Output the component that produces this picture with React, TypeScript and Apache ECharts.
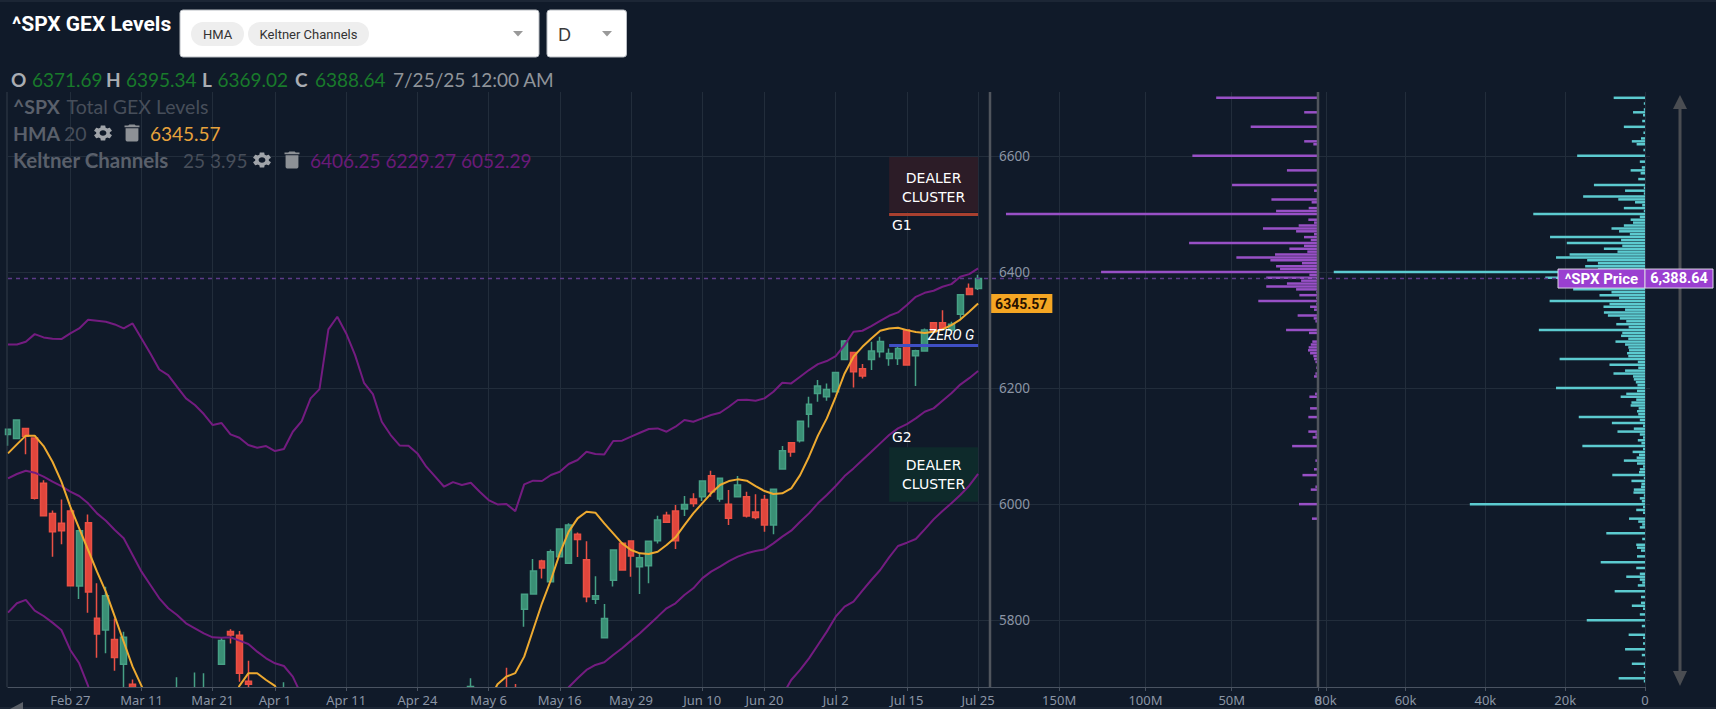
import React, { useEffect, useRef } from "react";
import * as echarts from "echarts";

const dates = ["Feb 18","Feb 19","Feb 20","Feb 21","Feb 24","Feb 25","Feb 26","Feb 27","Feb 28","Mar 3","Mar 4","Mar 5","Mar 6","Mar 7","Mar 10","Mar 11","Mar 12","Mar 13","Mar 14","Mar 17","Mar 18","Mar 19","Mar 20","Mar 21","Mar 24","Mar 25","Mar 26","Mar 27","Mar 28","Mar 31","Apr 1","Apr 2","Apr 3","Apr 4","Apr 7","Apr 8","Apr 9","Apr 10","Apr 11","Apr 14","Apr 15","Apr 16","Apr 17","Apr 21","Apr 22","Apr 23","Apr 24","Apr 25","Apr 28","Apr 29","Apr 30","May 1","May 2","May 5","May 6","May 7","May 8","May 9","May 12","May 13","May 14","May 15","May 16","May 19","May 20","May 21","May 22","May 23","May 27","May 28","May 29","May 30","Jun 2","Jun 3","Jun 4","Jun 5","Jun 6","Jun 9","Jun 10","Jun 11","Jun 12","Jun 13","Jun 16","Jun 17","Jun 18","Jun 20","Jun 23","Jun 24","Jun 25","Jun 26","Jun 27","Jun 30","Jul 1","Jul 2","Jul 3","Jul 7","Jul 8","Jul 9","Jul 10","Jul 11","Jul 14","Jul 15","Jul 16","Jul 17","Jul 18","Jul 21","Jul 22","Jul 23","Jul 24","Jul 25",""];
const dateTicks = ["Feb 27","Mar 11","Mar 21","Apr 1","Apr 11","Apr 24","May 6","May 16","May 29","Jun 10","Jun 20","Jul 2","Jul 15","Jul 25"];
const priceTicks = [5800, 6000, 6200, 6400, 6600];

const _ = ["-", "-", "-", "-"];
// open, close, low, high
const candles: any[] = [
[6120,6129,6100.7,6130],[6113,6145,6112,6146],[6130.5,6117,6086,6131],[6114,6010,6008,6115],[6035.8,5980,5979,6041],[5984,5952.6,5909.5,5989],[5967,5954.3,5931,6008],[5988,5859.6,5859,5993],[5859,5954.3,5836.6,5955],[5968,5848.7,5813,5982],
[5803.3,5776.4,5735.6,5863.6],[5783,5842.4,5743,5857.9],[5767,5736,5713,5803],[5724,5770.6,5666,5780],[5689.7,5614,5564,5698],_,_,_,_,[5635,5675,5631,5702],
_,[5632,5675,5622,5710],[5646,5662,5633,5708.6],_,[5724,5765,5723,5770.6],[5780.4,5774.6,5760,5784.4],[5774,5708.6,5694,5781.5],[5695,5689.7,5670,5730.4],_,_,
_,[5580,5671,5571,5693],_,_,_,_,_,_,_,_,
_,_,_,_,_,_,_,_,_,_,
_,_,[5645,5686,5629,5700],_,_,_,[5680,5663,5646,5718],[5680,5660,5650,5690],[5819,5844.7,5789,5846],[5845,5884.8,5844,5905.5],
[5902,5890,5872,5904],[5866.5,5918,5866,5922],[5909.5,5957,5908,5958],[5898,5964,5898,5967],[5948,5939,5909,5951],[5904,5840.6,5831,5936],[5836,5842,5828,5876],[5770,5803,5769,5828],[5869,5921,5858,5922],[5932.5,5886.6,5886,5933],
[5936.5,5910.7,5875,5938],[5892,5907.8,5845,5916],[5894,5936,5863.6,5937],[5937,5972.7,5932,5980],[5981,5968.6,5968,5987],[5988,5937,5922.7,5998.5],[5991.6,5999.6,5979.6,6014],[6008.8,6001,5995.6,6018.6],[6012.8,6039.8,6005.4,6041],[6049,6021.5,6012.8,6057.6],
[6008.8,6044.4,6004,6045],[6000,5975.5,5964,6024.3],[6012.8,6032.9,6012,6048.4],[6012.8,5979.5,5977,6021.5],[5986.4,5977,5973.8,6016.9],[6008.2,5964,5952.6,6015.7],[5964,6025.5,5948,6026],[6060.5,6092,6060,6100],[6105.8,6090,6081.7,6106],[6109.3,6143,6106.4,6143],
[6155,6172,6132,6185],[6190.8,6203.4,6176.4,6213.7],[6185,6197.6,6178,6208],[6193.6,6227,6193,6227],[6249.3,6280.9,6249,6282.6],[6261.4,6228,6201,6262],[6233.2,6220.6,6216.6,6241.3],[6249.3,6263.7,6231,6279.7],[6262.5,6280.3,6252.8,6288.3],[6251,6259.6,6238.4,6268],
[6251,6268.3,6239.5,6271],[6299.8,6239.5,6239,6300],[6255.6,6264.2,6203.4,6266],[6264,6299.8,6263,6302.7],[6312.4,6297,6296,6313],[6312.4,6302.7,6302,6334],[6300,6310,6298,6314],[6327,6360.7,6318,6361],[6371.6,6361,6360,6380],[6371.69,6388.64,6369.02,6395.34]
];

const N = null;
const hma = [6087.5,6103,6118,6118,6100,6073,6038.7,5995.6,5958.3,5921,5883.7,5849,5806.2,5763,5720,5686.8,5650,N,N,N,N,N,N,N,N,5650,5687,5708.6,5708.6,5697,5687,5650,N,N,N,N,N,N,N,N,N,N,N,N,N,N,N,N,N,N,N,N,N,N,5660,5689.7,5702.9,5709,5737.3,5783.2,5829.2,5869.3,5915.3,5952.6,5975.5,5987,5985.3,5967,5949.7,5932.5,5921,5915.3,5914,5918,5929.6,5942.8,5964,5984,6001.4,6018.6,6033,6039.8,6042.7,6040.4,6031,6022.6,6017.4,6018.6,6027,6050,6081.7,6118,6147.7,6185,6225.2,6254,6271,6285.5,6298.7,6302.7,6303.8,6299.8,6296.4,6295,6297,6301,6308.4,6318,6331.4,6345.57];
const keltnerUpper = [6275.1,6275.1,6279.7,6292.9,6287.2,6284.9,6284.3,6294.1,6302.7,6317.6,6315.9,6314.2,6309.6,6302.7,6311.3,6285.5,6259.6,6232,6222.3,6202.2,6182.2,6170.7,6155.2,6136.2,6139.7,6120.2,6114.4,6101.8,6097.2,6100,6091.5,6094.9,6124.7,6143.1,6182.2,6198.2,6301,6322.8,6294.1,6256.8,6209.1,6189.6,6142,6119,6101.2,6100.6,6087.4,6064.5,6047.3,6030,6038,6032.9,6036.9,6021.4,6007,5999.6,6000.2,5988,6034,6040.4,6039.8,6050.2,6055.9,6069.1,6076,6090.3,6086.3,6085.7,6108.7,6109.3,6116.2,6123,6129.4,6130.5,6124.8,6133.4,6144.9,6142,6147.7,6153.5,6157.5,6167.8,6179.3,6179.9,6178.2,6182.2,6193.7,6209.1,6208,6219.5,6231,6241.3,6246.5,6255,6274,6297,6298.7,6306.8,6315.9,6324.5,6330.3,6342.9,6357.2,6364.1,6367.6,6374.5,6379,6391.7,6396.3,6406.25];
const keltnerMiddle = [6044.4,6051.9,6057.6,6054.2,6047.3,6038.7,6031.2,6021.5,6014,6001.4,5984.1,5971.5,5955.4,5941.1,5912.4,5883.7,5860.7,5837.8,5820.6,5809.1,5794.7,5786.1,5777.5,5770.6,5770,5770.6,5764.9,5759.1,5745.9,5734.4,5725.8,5721.2,5702.9,5670,N,N,N,N,N,N,N,N,N,N,N,N,N,N,N,N,N,N,N,N,N,N,N,N,N,N,N,N,5660,5684.5,5700,5714.4,5723,5727.6,5740.2,5751.7,5764.9,5777.5,5791.9,5806.2,5820.6,5829.2,5843.5,5855,5872.2,5883.7,5892.3,5902,5909.5,5915.3,5919.3,5922.2,5932.5,5944,5954.3,5969.8,5984.1,6001.4,6015.7,6031.2,6048.4,6061.6,6076,6090.3,6104.7,6119,6130.5,6138,6147.7,6159.2,6165,6178,6191,6206,6217,6229.27];
const keltnerLower = [5813.1,5829.2,5835,5816.5,5807.3,5795.9,5783.2,5748.8,5725.8,5686.8,5640,N,N,N,N,N,N,N,N,N,N,N,N,N,N,N,N,N,N,N,N,N,N,N,N,N,N,N,N,N,N,N,N,N,N,N,N,N,N,N,N,N,N,N,N,N,N,N,N,N,N,N,N,N,N,N,N,N,N,N,N,N,N,N,N,N,N,N,N,N,N,N,N,N,N,N,N,5670,5697.1,5714.4,5734.4,5757.4,5780.4,5806.2,5823.4,5832,5851,5869.3,5886.6,5908.4,5927.9,5933.6,5940,5956.6,5973.8,5988.2,6001.4,6015.7,6031.8,6052.29];

// strike, millions
const purpleGex = [[6700,59],[6675,8],[6650,39],[6625,8],[6620,2.7],[6600,72.8],[6575,18],[6550,49.8],[6540,2.3],[6525,27],[6520,3.7],[6510,5.4],[6505,24.3],[6500,180.8],[6490,5.6],[6485,2.3],[6480,11.2],[6475,31.9],[6470,12.7],[6465,2.3],[6460,8.1],[6455,4.2],[6450,74.7],[6445,8.1],[6440,16.6],[6435,6.2],[6430,24.9],[6425,47.3],[6420,27.6],[6415,9.3],[6410,24.3],[6405,22],[6400,125.7],[6395,5],[6390,30],[6385,9.8],[6380,18],[6375,30],[6370,12.7],[6365,1],[6360,10.8],[6355,1],[6350,34.6],[6345,1],[6340,4.6],[6335,2.3],[6325,11.8],[6320,2.5],[6315,1.5],[6300,18.5],[6295,5.2],[6280,3.3],[6275,4.2],[6270,5.4],[6265,5.8],[6260,4.6],[6255,2.7],[6250,2.3],[6245,1.5],[6235,1],[6225,1.5],[6220,2.3],[6190,1.7],[6185,5],[6165,4.6],[6150,5.6],[6125,5.6],[6120,1.5],[6115,3.1],[6100,15],[6075,1.5],[6060,2.3],[6050,9],[6030,1.5],[6025,4.2],[6000,11],[5975,3.5]];
// strike, thousands
const cyanVolume = [[6700,7.85],[6690,.3],[6680,.3],[6675,3],[6670,.5],[6660,.7],[6650,5.3],[6640,.4],[6630,1],[6625,3.3],[6620,2.1],[6610,.4],[6600,17],[6590,1.3],[6580,.8],[6575,3.6],[6570,1.1],[6560,1.7],[6550,12.8],[6545,.3],[6540,5],[6535,.3],[6530,15.5],[6525,6.7],[6520,2.5],[6515,.7],[6510,5.3],[6505,.3],[6500,28],[6495,1.3],[6490,3.6],[6485,3],[6480,5.3],[6475,8.4],[6470,6.5],[6465,3.8],[6460,23.8],[6455,6],[6450,19.6],[6445,5.7],[6440,10.3],[6435,6.9],[6430,18.9],[6425,22.3],[6420,14.5],[6415,11.8],[6410,15],[6405,11.8],[6400,78],[6395,20],[6390,25],[6385,15],[6380,10],[6375,18],[6370,18],[6365,8.4],[6360,11.4],[6355,6.5],[6350,23.9],[6345,8.9],[6340,10.4],[6335,5],[6330,10.3],[6325,9.3],[6320,6.3],[6315,4.7],[6310,7.2],[6305,4.1],[6300,26.6],[6295,5.7],[6290,6],[6285,4.2],[6280,7.4],[6275,5],[6270,4.2],[6265,4],[6260,4.5],[6255,4.2],[6250,21.4],[6245,1.8],[6240,8.9],[6235,1.7],[6230,5],[6225,7.9],[6220,3],[6215,2.8],[6210,2.3],[6205,1.9],[6200,22.3],[6195,2],[6190,4.7],[6185,6.1],[6180,2.2],[6175,3.4],[6170,3.6],[6165,1.6],[6160,2],[6155,1.7],[6150,16.6],[6145,1.3],[6140,8.3],[6135,.5],[6130,2.8],[6125,6.9],[6120,1.3],[6115,.5],[6110,1.8],[6105,.9],[6100,15.7],[6095,.5],[6090,3.1],[6085,1.5],[6080,2.1],[6075,5.3],[6070,2],[6065,.5],[6060,1.3],[6055,1.5],[6050,8.2],[6045,.3],[6040,3.4],[6035,.9],[6030,1],[6025,2.8],[6020,2.9],[6015,.3],[6010,1.3],[6005,.8],[6000,43.9],[5995,.5],[5990,2.2],[5985,.5],[5975,4],[5970,1.7],[5965,.7],[5960,1.3],[5950,9.7],[5940,.7],[5930,2.2],[5925,2],[5920,1],[5910,2],[5900,11.1],[5890,2.2],[5880,1.3],[5875,4.7],[5870,1.3],[5865,.7],[5860,1.8],[5850,7.6],[5840,1],[5830,1],[5825,3.3],[5820,.5],[5810,1.3],[5800,14.6],[5790,.8],[5775,4.1],[5770,.5],[5760,.5],[5750,5],[5740,.8],[5725,3.3],[5720,.3],[5710,.3],[5700,6.6],[5695,.3]];

const lastPrice = 6388.64;
const g1Level = 6500;
const zeroGamma = 6274;
const g1Zone = [6503, 6598];
const g2Zone = [6004, 6098];

const strikes: string[] = [];
for (let s = 5685; s <= 6710; s += 5) strikes.push(String(s));

const BG = "#101a29";
const GRID = "#222d3b";
const AXIS = "#4a5361";
const LABEL = "#8b95a5";
const UI = "Roboto";

echarts.graphic.registerShape("gear", echarts.graphic.extendPath("M19.14 12.94c.04-.3.06-.61.06-.94 0-.32-.02-.64-.07-.94l2.03-1.58c.18-.14.23-.41.12-.61l-1.92-3.32c-.12-.22-.37-.29-.59-.22l-2.39.96c-.5-.38-1.03-.7-1.62-.94l-.36-2.54c-.04-.24-.24-.41-.48-.41h-3.84c-.24 0-.43.17-.47.41l-.36 2.54c-.59.24-1.13.57-1.62.94l-2.39-.96c-.22-.08-.47 0-.59.22L2.74 8.87c-.12.21-.08.47.12.61l2.03 1.58c-.05.3-.09.63-.09.94s.02.64.07.94l-2.03 1.58c-.18.14-.23.41-.12.61l1.92 3.32c.12.22.37.29.59.22l2.39-.96c.5.38 1.03.7 1.62.94l.36 2.54c.05.24.24.41.48.41h3.84c.24 0 .44-.17.47-.41l.36-2.54c.59-.24 1.13-.56 1.62-.94l2.39.96c.22.08.47 0 .59-.22l1.92-3.32c.12-.22.07-.47-.12-.61l-2.01-1.58zM12 15.6c-1.98 0-3.6-1.62-3.6-3.6s1.62-3.6 3.6-3.6 3.6 1.62 3.6 3.6-1.62 3.6-3.6 3.6z", {}) as any);
echarts.graphic.registerShape("trash", echarts.graphic.extendPath("M6 19c0 1.1.9 2 2 2h8c1.1 0 2-.9 2-2V7H6v12zM19 4h-3.5l-1-1h-5l-1 1H5v2h14V4z", {}) as any);

function txt(x: number, y: number, text: string, fontSize: number, fill: string, fontWeight: any = 400, fontFamily = "Lato", align = "left", extra: any = {}) {
  return { type: "text", x, y, z: 60, silent: true, style: { text, fontSize, fill, fontWeight, fontFamily, align, textAlign: align, verticalAlign: "middle", textVerticalAlign: "middle", ...extra } };
}
function rect(x: number, y: number, w: number, h: number, fill: string, r = 0, stroke?: string, z = 55) {
  return { type: "rect", z, silent: true, shape: { x, y, width: w, height: h, r }, style: { fill, stroke, lineWidth: stroke ? 1 : 0 } };
}
function vline(x: number, y1: number, y2: number, stroke: string, lineWidth: number) {
  return { type: "line", z: 40, silent: true, shape: { x1: x, y1, x2: x, y2 }, style: { stroke, lineWidth } };
}
function tri(points: number[][], fill: string, z = 45) {
  return { type: "polygon", z, silent: true, shape: { points }, style: { fill } };
}
function icon(type: string, cx: number, cy: number, sx: number, sy: number, fill: string) {
  return { type, z: 60, silent: true, x: cx - 12 * sx, y: cy - 12 * sy, scaleX: sx, scaleY: sy, style: { fill } };
}

const HEAD = "#a9adb3";
const GREEN = "#197a2b";
const DIM_B = "#5a606b";
const DIM = "#474e5a";

const staticGraphics: any[] = [
  rect(0, 0, 1716, 2, "#1c2635"),
  rect(0, 707, 1716, 2, "#1c2635"),
  rect(0, 688, 987, 19, BG, 0, undefined, 65),
  txt(12, 24, "^SPX GEX Levels", 21, "#ffffff", 700, UI),
  rect(180, 10, 359, 47, "#ffffff", 3, "#b8bcc2"),
  rect(191, 22, 53, 24, "#eeeeee", 12),
  txt(217.5, 34, "HMA", 13, "#333333", 400, UI, "center"),
  rect(248, 22, 121, 24, "#eeeeee", 12),
  txt(308.5, 34, "Keltner Channels", 13, "#333333", 400, UI, "center"),
  tri([[513, 31], [523, 31], [518, 36.5]], "#999999", 60),
  rect(547, 10, 79.5, 47, "#ffffff", 3, "#b8bcc2"),
  txt(558, 34, "D", 17, "#3a3a3a", 400, "Lato"),
  tri([[602, 31], [612, 31], [607, 36.5]], "#999999", 60),

  txt(11, 79, "O", 19, HEAD, 700),
  txt(32, 79, "6371.69", 19, GREEN),
  txt(106, 79, "H", 19, HEAD, 700),
  txt(126, 79, "6395.34", 19, GREEN),
  txt(202, 79, "L", 19, HEAD, 700),
  txt(217.5, 79, "6369.02", 19, GREEN),
  txt(295, 79, "C", 19, HEAD, 700),
  txt(315, 79, "6388.64", 19, GREEN),
  txt(393, 79, "7/25/25 12:00 AM", 19, "#8f949a"),

  txt(13, 106, "^SPX", 19.5, DIM_B, 700),
  txt(66.5, 106, "Total GEX Levels", 19.5, DIM),
  txt(13, 133, "HMA", 19.5, DIM_B, 700),
  txt(64, 133, "20", 19.5, DIM),
  icon("gear", 103, 133, 0.95, 0.78, "#a0a4a9"),
  icon("trash", 132, 133, 1.07, 0.95, "#8d9196"),
  txt(150, 133, "6345.57", 19, "#e7a23c"),
  txt(13, 160, "Keltner Channels", 20.5, DIM_B, 700),
  txt(183, 160, "25 3.95", 19, DIM),
  icon("gear", 262, 160, 0.95, 0.78, "#a0a4a9"),
  icon("trash", 292, 160, 1.07, 0.95, "#8d9196"),
  txt(310, 160, "6406.25 6229.27 6052.29", 19, "#6a1a78"),

  txt(892, 225, "G1", 14, "#ffffff", 400, "DejaVu Sans"),
  txt(892, 436.5, "G2", 14, "#ffffff", 400, "DejaVu Sans"),
  txt(928, 335, "ZERO G", 14, "#ffffff", 400, UI, "left", { fontStyle: "italic" }),

  vline(7, 92, 687, "#333d4b", 1),
  vline(990, 92, 687, "#50555d", 2.5),
  vline(1318, 92, 687, "#50555d", 2.5),

  vline(1680, 107, 673, "#4a4d52", 3),
  tri([[1680, 95], [1673, 109], [1687, 109]], "#4a4d52"),
  tri([[1680, 686], [1673, 671], [1687, 671]], "#4a4d52"),
  tri([[10, 709], [23, 702], [23, 709]], "#5b6068", 66),
];

function priceGraphics(y: number): any[] {
  return [
    { type: "line", id: "priceDash", z: 20, silent: true, shape: { x1: 8, y1: y, x2: 1558, y2: y }, style: { stroke: "#5c3b88", lineWidth: 1.4, lineDash: [4, 4] } },
    { ...rect(1558, y - 9.5, 87, 19, "#9a3fd0", 0, "#d9d4e4"), id: "priceBox" },
    { ...rect(1645, y - 9.5, 68, 19, "#9a3fd0", 0, "#d9d4e4"), id: "priceBox2" },
    { ...txt(1601.5, y, "^SPX Price", 15, "#ffffff", 700, UI, "center"), id: "priceText" },
    { ...txt(1679, y, "6,388.64", 14.5, "#ffffff", 700, UI, "center"), id: "priceValue" },
  ];
}

const isDateTick = (_i: number, name: string) => dateTicks.includes(name);
const isPriceRow = (_i: number, name: string) => priceTicks.includes(Number(name));

function gexRows(pairs: number[][], unit: number) {
  const m = new Map(pairs.map((p) => [String(p[0]), p[1] * unit]));
  return strikes.map((s) => (m.has(s) ? m.get(s) : "-"));
}

function strikeAxis(gridIndex: number, position: string, withTick: boolean) {
  return {
    type: "category", gridIndex, position, data: strikes, boundaryGap: false,
    axisLabel: { show: false },
    axisLine: { show: false },
    axisTick: { show: withTick, interval: isPriceRow, length: 5, lineStyle: { color: GRID } },
    splitLine: { show: true, interval: isPriceRow, lineStyle: { color: GRID, width: 1 } },
  };
}

const purpleTicks = [0, 5e7, 1e8, 1.5e8];
const cyanTicks = [0, 20000, 40000, 60000, 80000];
const AXIS_FONT = { color: LABEL, fontSize: 13, fontFamily: "Noto Sans" };

function sizeAxis(gridIndex: number, max: number, ticks: number[], fmt: (v: number) => string) {
  return {
    type: "value", gridIndex, position: "bottom", inverse: true, min: 0, max,
    axisLine: { show: true, onZero: false, lineStyle: { color: AXIS } },
    axisTick: { show: true, length: 4, customValues: ticks, lineStyle: { color: AXIS } },
    axisLabel: { customValues: ticks, formatter: fmt, ...AXIS_FONT, margin: 6, hideOverlap: false, showMinLabel: true, showMaxLabel: true },
    splitLine: { show: true, lineStyle: { color: GRID } },
  };
}

export default function App() {
  const ref = useRef<HTMLDivElement>(null);
  useEffect(() => {
    document.body.style.margin = "0";
    document.body.style.background = BG;
    const chart = echarts.init(ref.current!, undefined, { renderer: "svg" });
    const option: any = {
      animation: false,
      backgroundColor: BG,
      grid: [
        { left: 8, top: 92, width: 979, height: 595 },
        { left: 987, top: 92, width: 331, height: 595 },
        { left: 1318, top: 92, width: 327, height: 595 },
      ],
      xAxis: [
        {
          type: "category", gridIndex: 0, position: "top", data: dates, boundaryGap: false,
          axisLine: { show: false }, axisTick: { show: false }, axisLabel: { show: false },
          splitLine: { show: true, interval: isDateTick, lineStyle: { color: GRID } },
        },
        sizeAxis(1, 191.8e6, purpleTicks, (v) => (v === 0 ? "0" : v / 1e6 + "M")),
        sizeAxis(2, 81950, cyanTicks, (v) => (v === 0 ? "0" : v / 1000 + "k")),
        {
          type: "category", gridIndex: 0, position: "bottom", data: dates, boundaryGap: false, z: 70,
          axisLine: { lineStyle: { color: AXIS } },
          axisTick: { interval: isDateTick, length: 4, lineStyle: { color: AXIS } },
          axisLabel: { interval: isDateTick, ...AXIS_FONT, margin: 6, hideOverlap: false },
          splitLine: { show: false },
        },
      ],
      yAxis: [
        {
          type: "value", gridIndex: 0, position: "right", min: 5685, max: 6710, scale: true,
          axisLine: { show: false },
          axisTick: { show: false, customValues: priceTicks },
          axisLabel: { customValues: priceTicks, formatter: (v: number) => String(v), ...AXIS_FONT, fontSize: 13.5, margin: 12, showMinLabel: true, showMaxLabel: true },
          splitLine: { show: true, lineStyle: { color: GRID } },
        },
        strikeAxis(1, "right", false),
        strikeAxis(2, "right", true),
      ],
      series: [
        {
          type: "candlestick", name: "^SPX", xAxisIndex: 0, yAxisIndex: 0, data: candles, barWidth: 6.4, z: 3,
          itemStyle: { color: "#3a8f75", color0: "#e0463c", borderColor: "#46a085", borderColor0: "#ea5045", borderWidth: 1.5 },
          markArea: {
            silent: true, z: 1,
            label: { show: true, position: "inside", color: "#ffffff", fontSize: 14, lineHeight: 19, fontFamily: "DejaVu Sans", formatter: "DEALER\nCLUSTER" },
            data: [
              [{ coord: ["Jul 11", g1Zone[1]], itemStyle: { color: "#2c1c27" }, label: { offset: [0, 2.5] } }, { coord: ["Jul 25", g1Zone[0]] }],
              [{ coord: ["Jul 11", g2Zone[1]], itemStyle: { color: "#0e2a2b" } }, { coord: ["Jul 25", g2Zone[0]] }],
            ],
          },
          markLine: {
            silent: true, symbol: "none", label: { show: false }, z: 6,
            data: [
              [{ coord: ["Jul 11", g1Level], lineStyle: { color: "#a9402f", width: 3, type: "solid" } }, { coord: ["Jul 25", g1Level] }],
              [{ coord: ["Jul 11", zeroGamma], lineStyle: { color: "#3f4fc4", width: 3, type: "solid" } }, { coord: ["Jul 25", zeroGamma] }],
            ],
          },
        },
        ...[keltnerUpper, keltnerMiddle, keltnerLower].map((d, i) => ({
          type: "line", name: "Keltner " + i, xAxisIndex: 0, yAxisIndex: 0, data: d, showSymbol: false, symbol: "none", connectNulls: false, z: 4,
          lineStyle: { color: "#741c80", width: 2 }, clip: true,
        })),
        {
          type: "line", name: "HMA", xAxisIndex: 0, yAxisIndex: 0, data: hma, showSymbol: false, symbol: "none", z: 5,
          lineStyle: { color: "#eeaa30", width: 2 }, clip: true,
          endLabel: {
            show: true, formatter: () => "6345.57", backgroundColor: "#f5a623", color: "#2a1200", fontWeight: 700, fontSize: 14,
            fontFamily: UI, padding: [3, 5, 2, 5], distance: 12, align: "left",
          },
        },
        { type: "bar", name: "GEX", xAxisIndex: 1, yAxisIndex: 1, data: gexRows(purpleGex, 1e6), barWidth: 2.5, itemStyle: { color: "#9850c6" }, z: 3 },
        { type: "bar", name: "Volume", xAxisIndex: 2, yAxisIndex: 2, data: gexRows(cyanVolume, 1000), barWidth: 2.5, itemStyle: { color: "#5ccbd0" }, z: 3 },
      ],
      graphic: staticGraphics,
    };
    chart.setOption(option);
    const y = chart.convertToPixel({ yAxisIndex: 0 }, lastPrice) as number;
    chart.setOption({ graphic: [...staticGraphics, ...priceGraphics(y)] });
    return () => chart.dispose();
  }, []);
  return <div ref={ref} style={{ position: "fixed", left: 0, top: 0, width: 1716, height: 709 }} />;
}
